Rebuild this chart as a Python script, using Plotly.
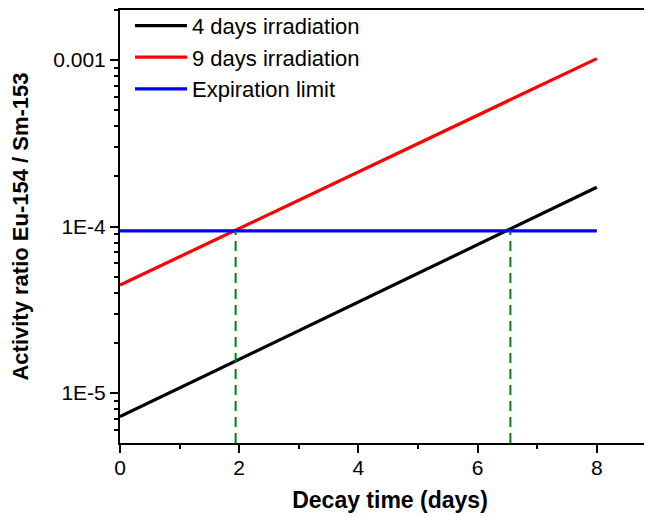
import plotly.graph_objects as go

# Data
decay_days = [0, 8]
ratio_4days = [7.2e-6, 1.72e-4]
ratio_9days = [4.45e-5, 1.02e-3]
limit_days = [0, 8]
limit_value = [9.4e-5, 9.4e-5]
crossing_days = [1.94, 6.55]
y_floor = 5e-6

y_tickvals = [1e-5, 1e-4, 1e-3]
y_ticktext = ["1E-5", "1E-4", "0.001"]
y_minor = [m * 10.0 ** e for e in (-6, -5, -4, -3) for m in range(2, 10)]
y_minor = [v for v in y_minor if 5e-6 <= v <= 2e-3]

font_family = "Liberation Sans, Arial, sans-serif"

fig = go.Figure()
fig.add_trace(go.Scatter(x=decay_days, y=ratio_4days, mode="lines",
                         name="4 days irradiation",
                         line=dict(color="black", width=3.2)))
fig.add_trace(go.Scatter(x=decay_days, y=ratio_9days, mode="lines",
                         name="9 days irradiation",
                         line=dict(color="#ff0000", width=3.2)))
fig.add_trace(go.Scatter(x=limit_days, y=limit_value, mode="lines",
                         name="Expiration limit",
                         line=dict(color="#0000ff", width=3.2)))
for xc in crossing_days:
    fig.add_trace(go.Scatter(x=[xc, xc], y=[y_floor, limit_value[0]], mode="lines",
                             showlegend=False,
                             line=dict(color="#008000", width=2, dash="10px,6px")))

fig.update_layout(
    width=652, height=517,
    margin=dict(l=112, r=0, t=2, b=82, autoexpand=False),
    paper_bgcolor="white", plot_bgcolor="white",
    font=dict(family=font_family, size=22, color="black"),
    showlegend=True,
    legend=dict(x=0.0185, y=1.012, xanchor="left", yanchor="top",
                bgcolor="rgba(0,0,0,0)", font=dict(size=22),
                tracegroupgap=0, itemwidth=52),
)
fig.update_xaxes(
    range=[0, 9.06], showgrid=False, zeroline=False, automargin=False,
    showline=True, linecolor="black", linewidth=2, mirror=True,
    tickmode="linear", tick0=0, dtick=2, tickfont=dict(size=21),
    ticks="outside", ticklen=8, tickwidth=2, tickcolor="black",
    ticklabelstandoff=-3,
    minor=dict(ticks="outside", ticklen=4, tickwidth=2, tickcolor="black", dtick=1),
    title=dict(text="<b>Decay time (days)</b>", font=dict(size=23), standoff=14),
)
fig.update_yaxes(
    type="log", range=[-5.301, -2.699], showgrid=False, zeroline=False, automargin=False,
    showline=True, linecolor="black", linewidth=2,
    tickmode="array", tickvals=y_tickvals, ticktext=y_ticktext, tickfont=dict(size=21),
    ticks="outside", ticklen=8, tickwidth=2, tickcolor="black",
    minor=dict(ticks="outside", ticklen=4, tickwidth=2, tickcolor="black",
               tickmode="array", tickvals=y_minor),
    title=dict(text="<b>Activity ratio Eu-154 / Sm-153</b>", font=dict(size=22), standoff=24),
)

fig.write_html("out.html")
